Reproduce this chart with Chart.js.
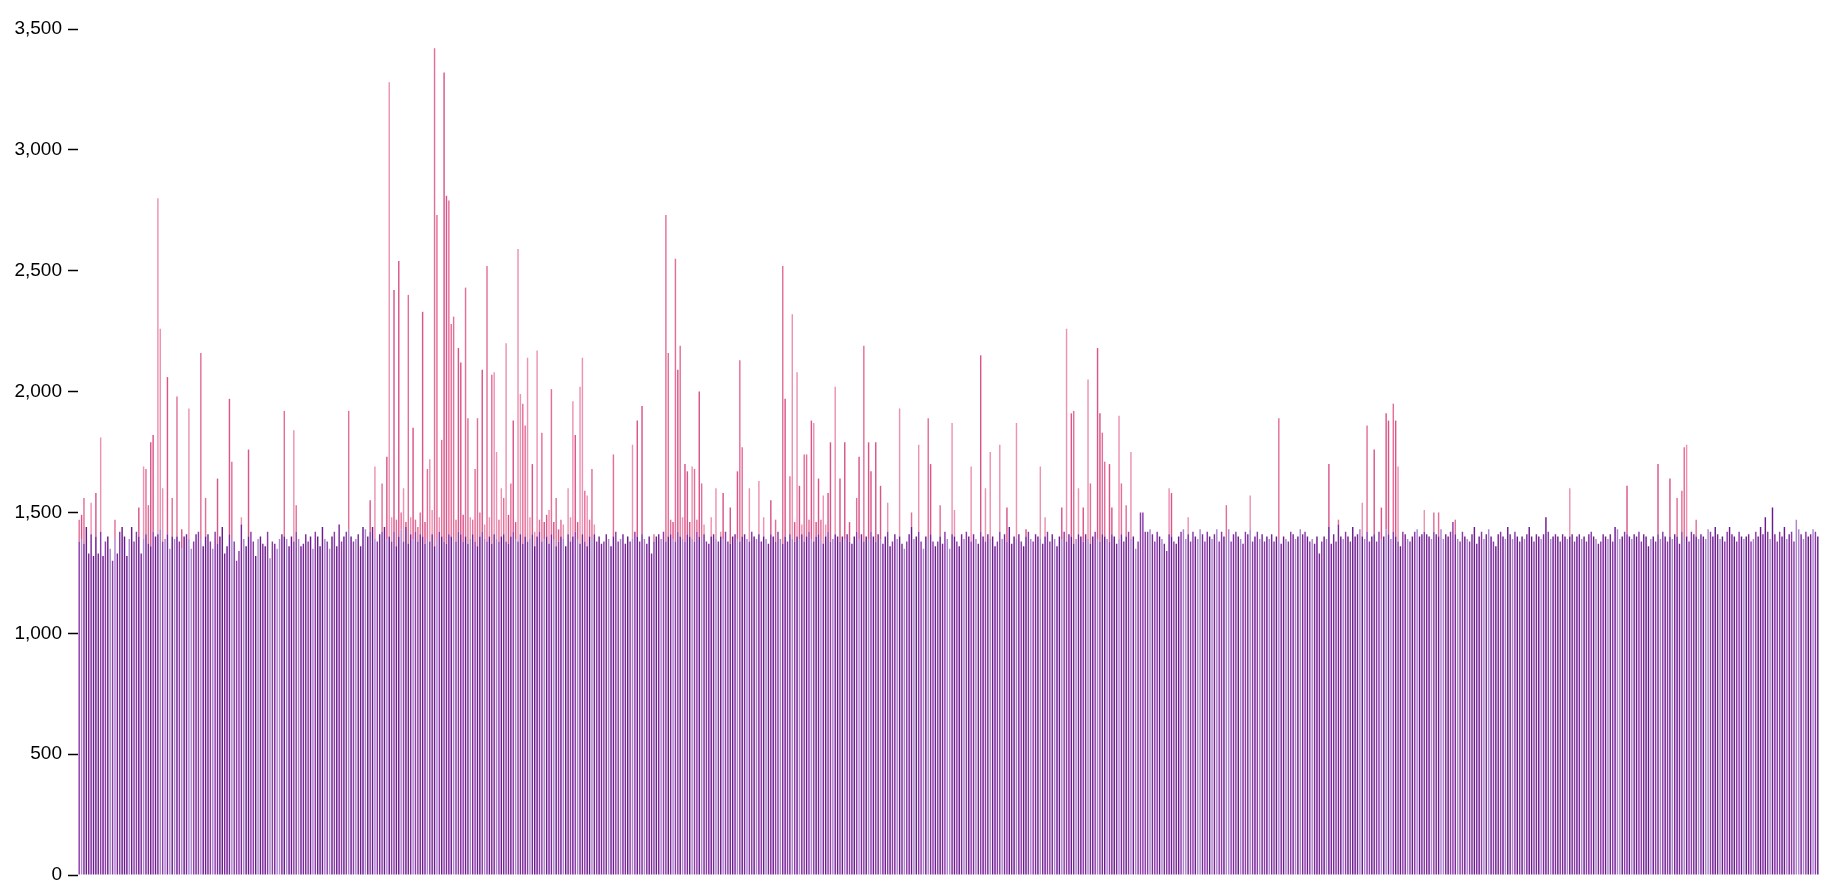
<!DOCTYPE html>
<html>
<head>
<meta charset="utf-8">
<script src="https://cdn.jsdelivr.net/npm/chart.js@4"></script>
<style>
  html, body { margin: 0; background: #fff; }
  #wrap { width: 1838px; height: 896px; }
</style>
</head>
<body>
<div id="wrap"><canvas id="chart"></canvas></div>
<script>
// height of the purple part of each bar (730 bars)
const purple = [
  1380,1390,1370,1440,1330,1410,1320,1400,1330,1420,1320,1380,1400,1350,1300,1390,1330,1420,1440,1400,
  1320,1390,1440,1380,1420,1400,1330,1390,1410,1370,1360,1420,1400,1410,1430,1380,1390,1410,1350,1400,
  1390,1400,1380,1350,1400,1410,1390,1350,1380,1410,1420,1390,1360,1400,1410,1380,1350,1420,1370,1400,
  1440,1330,1360,1410,1390,1380,1300,1340,1450,1390,1360,1400,1420,1380,1320,1390,1400,1370,1360,1420,
  1310,1380,1370,1350,1390,1410,1400,1390,1360,1400,1380,1420,1390,1360,1370,1410,1380,1400,1350,1420,
  1400,1360,1440,1390,1380,1350,1400,1420,1360,1450,1380,1400,1420,1430,1400,1380,1390,1410,1360,1440,
  1430,1400,1420,1440,1390,1380,1410,1420,1440,1390,1400,1380,1420,1360,1400,1430,1380,1440,1370,1410,
  1390,1420,1380,1410,1400,1370,1390,1380,1410,1360,1390,1420,1400,1380,1370,1410,1400,1390,1380,1420,
  1410,1380,1400,1370,1390,1410,1380,1360,1400,1420,1390,1380,1400,1370,1410,1390,1380,1400,1410,1380,
  1370,1400,1420,1390,1380,1410,1370,1400,1380,1390,1410,1360,1400,1420,1380,1390,1400,1370,1410,1390,
  1360,1380,1400,1390,1360,1410,1380,1400,1420,1390,1370,1410,1380,1360,1400,1390,1410,1380,1400,1370,
  1380,1410,1390,1360,1400,1420,1380,1390,1410,1370,1400,1380,1390,1420,1400,1380,1410,1390,1370,1400,
  1330,1380,1400,1410,1390,1420,1380,1400,1410,1390,1380,1420,1400,1390,1380,1410,1400,1390,1380,1420,
  1400,1390,1410,1380,1370,1400,1410,1390,1380,1400,1390,1420,1380,1370,1400,1410,1390,1380,1400,1410,
  1390,1380,1420,1400,1390,1410,1380,1400,1390,1370,1410,1400,1380,1420,1390,1370,1400,1380,1410,1390,
  1380,1400,1390,1410,1380,1400,1420,1390,1380,1400,1410,1390,1370,1400,1420,1380,1390,1410,1400,1380,
  1400,1390,1410,1380,1370,1400,1420,1390,1410,1380,1400,1390,1420,1400,1380,1410,1390,1370,1400,1420,
  1360,1380,1410,1390,1400,1370,1350,1380,1410,1440,1390,1400,1420,1380,1350,1400,1390,1410,1380,1360,
  1380,1400,1370,1420,1390,1350,1410,1400,1380,1360,1410,1390,1420,1400,1380,1410,1390,1370,1420,1400,
  1380,1410,1390,1400,1360,1380,1420,1390,1410,1380,1440,1370,1400,1390,1410,1380,1360,1400,1420,1390,
  1380,1410,1400,1390,1370,1400,1420,1380,1410,1390,1360,1400,1390,1420,1380,1410,1400,1370,1390,1410,
  1400,1380,1410,1390,1370,1400,1420,1390,1380,1410,1400,1390,1380,1410,1400,1370,1390,1410,1380,1400,
  1420,1390,1400,1350,1380,1500,1500,1420,1420,1430,1410,1380,1420,1400,1390,1370,1340,1410,1400,1380,
  1370,1400,1420,1430,1390,1410,1380,1420,1400,1390,1430,1410,1380,1420,1400,1390,1410,1430,1380,1420,
  1400,1390,1430,1380,1410,1420,1400,1390,1370,1420,1410,1430,1380,1400,1420,1390,1410,1380,1400,1390,
  1410,1380,1400,1390,1370,1400,1390,1380,1420,1410,1390,1400,1430,1410,1420,1400,1380,1390,1370,1400,
  1330,1380,1400,1390,1440,1370,1410,1380,1450,1400,1390,1420,1400,1380,1440,1400,1410,1430,1400,1390,
  1420,1380,1400,1410,1380,1420,1390,1400,1430,1410,1390,1420,1400,1380,1360,1420,1410,1390,1380,1400,
  1420,1430,1400,1410,1420,1410,1400,1390,1420,1410,1400,1430,1390,1410,1400,1420,1460,1410,1390,1380,
  1420,1400,1390,1380,1410,1440,1370,1400,1420,1390,1410,1430,1400,1380,1360,1410,1420,1400,1390,1440,
  1410,1390,1420,1400,1380,1400,1390,1410,1440,1400,1380,1410,1400,1390,1410,1480,1420,1390,1400,1410,
  1400,1380,1410,1400,1390,1400,1410,1380,1400,1410,1390,1400,1380,1410,1420,1400,1390,1370,1380,1410,
  1400,1390,1410,1380,1440,1430,1390,1400,1420,1410,1400,1390,1410,1400,1420,1380,1410,1400,1360,1390,
  1400,1380,1410,1390,1420,1400,1380,1400,1390,1410,1400,1370,1420,1390,1400,1380,1420,1410,1400,1390,
  1410,1400,1390,1430,1420,1400,1440,1410,1390,1400,1380,1420,1440,1410,1400,1380,1420,1400,1390,1400,
  1410,1380,1390,1420,1400,1440,1410,1480,1420,1390,1520,1410,1380,1420,1400,1440,1390,1410,1420,1380,
  1470,1430,1410,1390,1420,1400,1410,1430,1420,1400
];

// top of the pink part where a bar goes above its purple part (0 = none)
const peaks = [
  1470,1490,1560,0,0,1540,0,1580,0,1810,0,0,0,0,0,1470,0,0,0,0,
  0,0,0,0,0,1520,0,1690,1680,1530,1790,1820,0,2800,2260,1600,0,2060,0,1560,
  0,1980,0,1430,0,0,1930,0,0,0,0,2160,0,1560,0,0,0,0,1640,0,
  0,0,0,1970,1710,0,0,0,1480,0,0,1760,0,0,0,0,0,0,0,0,
  0,0,0,0,0,0,1920,0,0,0,1840,1530,0,0,0,0,0,0,0,0,
  0,0,0,0,0,0,0,0,0,0,0,0,0,1920,0,0,0,0,0,0,
  0,0,1550,0,1690,0,0,1620,0,1730,3280,1480,2420,1470,2540,1500,1600,1460,2400,1480,
  1850,1470,1440,1500,2330,1460,1680,1720,1510,3420,2730,1480,1800,3320,2810,2790,2280,2310,1470,2180,
  2120,1490,2430,1890,1480,1470,1680,1890,1500,2090,1450,2520,1480,2070,2080,1750,1470,1600,1560,2200,
  1490,1620,1880,1460,2590,1990,1950,1860,2140,1480,1700,1420,2170,1470,1830,1460,1490,1510,2010,1460,
  1560,1430,1470,1450,0,1600,1480,1960,1820,1460,2020,2140,1590,1570,1470,1680,1450,0,0,0,
  0,0,0,0,1740,0,0,0,0,0,0,0,1780,0,1880,0,1940,0,0,0,
  0,1410,0,0,0,0,2730,2160,1470,1460,2550,2090,2190,1480,1700,1670,1460,1690,1680,1470,
  2000,1620,1450,0,0,1480,0,1600,0,1420,1580,0,0,1520,0,0,1670,2130,1770,0,
  0,1600,0,0,0,1630,0,1480,0,0,1550,0,1470,0,0,2520,1970,0,1650,2320,
  1460,2080,1610,1450,1740,1740,1470,1880,1870,1460,1640,1470,1570,1450,1580,1790,0,2020,0,1640,
  0,1790,0,1460,0,0,1560,1730,0,2190,0,1790,1670,0,1790,0,1610,0,0,1540,
  0,0,0,0,1930,0,0,0,0,1500,0,0,1780,0,0,0,1890,1700,0,0,
  0,1530,0,0,0,0,1870,1510,0,0,0,0,0,0,1690,0,0,0,2150,0,
  1600,0,1750,0,0,0,1780,0,0,1520,0,0,0,1870,0,0,0,1430,0,0,
  0,0,0,1690,0,1480,0,0,0,0,0,0,1520,0,2260,0,1910,1920,0,1600,
  0,1520,0,2050,1620,0,0,2180,1910,1830,1710,0,1700,1520,0,0,1900,1620,0,1530,
  0,1750,0,0,0,0,0,0,0,0,0,0,0,0,0,0,0,1600,1580,0,
  0,0,0,0,0,1480,0,0,0,0,0,0,0,0,0,0,0,0,0,0,
  0,1530,0,0,0,0,0,0,0,0,0,1570,0,0,0,0,0,0,0,0,
  0,0,0,1890,0,0,0,0,0,0,0,0,0,0,0,0,0,0,0,0,
  0,0,0,0,1700,0,0,0,1470,0,0,0,0,0,0,0,0,0,1540,0,
  1860,0,0,1760,0,0,1520,0,1910,1880,0,1950,1880,1690,0,0,0,0,0,0,
  0,0,0,0,1510,0,0,0,1500,0,1500,0,0,0,0,0,0,1470,0,0,
  0,0,0,0,0,0,0,0,0,0,0,0,0,0,0,0,0,0,0,0,
  0,0,0,0,0,0,0,0,0,0,0,0,0,0,0,0,0,0,0,0,
  0,0,0,0,0,1600,0,0,0,0,0,0,0,0,0,0,0,0,0,0,
  0,0,0,0,0,0,0,0,0,1610,0,0,0,0,0,0,0,0,0,0,
  0,0,1700,0,0,0,0,1640,0,0,1560,0,1590,1770,1780,0,0,0,1470,0,
  0,0,0,0,0,0,0,0,0,0,0,0,0,0,0,0,0,0,0,0,
  0,0,0,0,0,0,0,0,0,0,0,0,0,0,0,0,0,0,0,0,
  0,0,0,0,0,0,0,0,0,0
];

const yTicks = [0, 500, 1000, 1500, 2000, 2500, 3000, 3500];
const days = purple.map((_, i) => 'Day ' + (i + 1));

const purpleShades = ['#6a1a8e', '#7b2799', '#8c3aa8', '#ab86cc'];
const pinkShades = ['#e36f98', '#ec92b2', '#d9558a'];

// pink part sits on top of the purple one
const pinkPart = peaks.map((p, i) => (p && p > purple[i]) ? p - purple[i] : 0);

const ctx = document.getElementById('chart').getContext('2d');
new Chart(ctx, {
  type: 'bar',
  data: {
    labels: days,
    datasets: [{
      label: 'Base',
      data: purple,
      backgroundColor: c => purpleShades[Math.round(purple[c.dataIndex] / 10) % 4]
    }, {
      label: 'Peak',
      data: pinkPart,
      backgroundColor: c => pinkShades[Math.round((peaks[c.dataIndex] || 0) / 10) % 3]
    }]
  },
  options: {
    responsive: true,
    maintainAspectRatio: false,
    animation: false,
    layout: { padding: { top: 29, right: 19, bottom: 21, left: 0 } },
    datasets: { bar: { categoryPercentage: 1, barPercentage: 0.6, borderWidth: 0 } },
    plugins: {
      legend: { display: false },
      tooltip: { enabled: false }
    },
    scales: {
      x: { display: false, stacked: true },
      y: {
        stacked: true,
        min: yTicks[0],
        max: yTicks[yTicks.length - 1],
        afterBuildTicks: s => { s.ticks = yTicks.map(v => ({ value: v })); },
        ticks: {
          padding: 6,
          color: '#000',
          font: { size: 19, family: 'Helvetica, Arial, "Liberation Sans", sans-serif' }
        },
        grid: { drawOnChartArea: false, tickLength: 10, tickColor: '#000', tickWidth: 1.5 },
        border: { display: false },
        afterFit: s => { s.width = 78; }
      }
    }
  }
});
</script>
</body>
</html>
